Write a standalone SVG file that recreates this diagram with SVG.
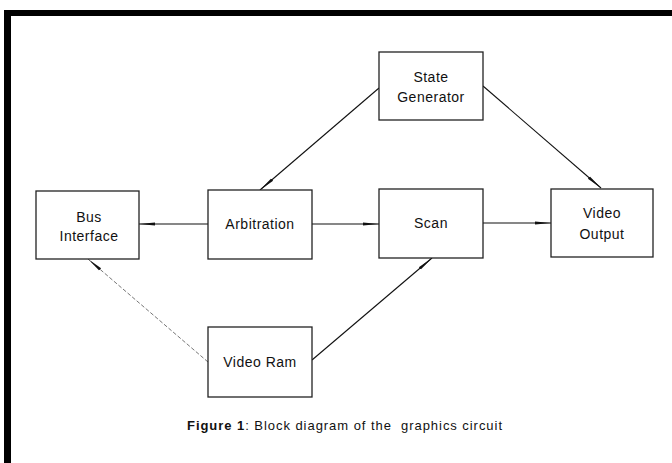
<svg xmlns="http://www.w3.org/2000/svg" width="672" height="463" viewBox="0 0 672 463">
<style>
.box{fill:#fff;stroke:#222;stroke-width:1.3}
.lbl{font-family:"Liberation Sans",Arial,sans-serif;font-size:14px;fill:#111;text-anchor:middle;letter-spacing:0.5px}
.ln{stroke:#111;stroke-width:1.1;fill:none}
.faint{stroke:#666;stroke-width:0.9;stroke-dasharray:4 2;fill:none}
.cap{font-family:"Liberation Sans",Arial,sans-serif;font-size:13px;fill:#111}
</style>
<defs>
<marker id="ah" viewBox="0 0 16 5" refX="16" refY="2.5" markerWidth="16" markerHeight="5" markerUnits="userSpaceOnUse" orient="auto">
<path d="M0,1 L16,2.5 L0,4 z" fill="#111"/>
</marker>
</defs>
<rect width="672" height="463" fill="#fff"/>
<g id="frame">
<line x1="5" y1="13" x2="672" y2="13" stroke="#000" stroke-width="6"/>
<line x1="7.5" y1="10" x2="7.5" y2="463" stroke="#000" stroke-width="7"/>
</g>
<g id="connectors">
<line class="ln" x1="208" y1="224" x2="139" y2="224" marker-end="url(#ah)"/>
<line class="ln" x1="312" y1="224" x2="379" y2="224" marker-end="url(#ah)"/>
<line class="ln" x1="483" y1="223" x2="551" y2="223" marker-end="url(#ah)"/>
<line class="ln" x1="379" y1="88" x2="260" y2="190" marker-end="url(#ah)"/>
<line class="ln" x1="483" y1="86" x2="601" y2="188" marker-end="url(#ah)"/>
<line class="faint" x1="208" y1="362" x2="88" y2="259" marker-end="url(#ah)"/>
<line class="ln" x1="312" y1="360" x2="432" y2="258" marker-end="url(#ah)"/>
</g>
<g id="state-generator">
<rect class="box" x="379" y="52" width="104" height="68"/>
<text class="lbl" x="431" y="82">State</text>
<text class="lbl" x="431" y="102">Generator</text>
</g>
<g id="bus-interface">
<rect class="box" x="36" y="191" width="103" height="68"/>
<text class="lbl" x="89" y="222">Bus</text>
<text class="lbl" x="89" y="241">Interface</text>
</g>
<g id="arbitration">
<rect class="box" x="208" y="190" width="104" height="69"/>
<text class="lbl" x="260" y="229">Arbitration</text>
</g>
<g id="scan">
<rect class="box" x="379" y="189" width="104" height="69"/>
<text class="lbl" x="431" y="228">Scan</text>
</g>
<g id="video-output">
<rect class="box" x="551" y="189" width="102" height="68"/>
<text class="lbl" x="602" y="218">Video</text>
<text class="lbl" x="602" y="239">Output</text>
</g>
<g id="video-ram">
<rect class="box" x="208" y="327" width="104" height="70"/>
<text class="lbl" x="260" y="367">Video Ram</text>
</g>
<text class="cap" x="187" y="430" textLength="315" lengthAdjust="spacing" xml:space="preserve"><tspan font-weight="bold">Figure 1</tspan>: Block diagram of the  graphics circuit</text>
</svg>
